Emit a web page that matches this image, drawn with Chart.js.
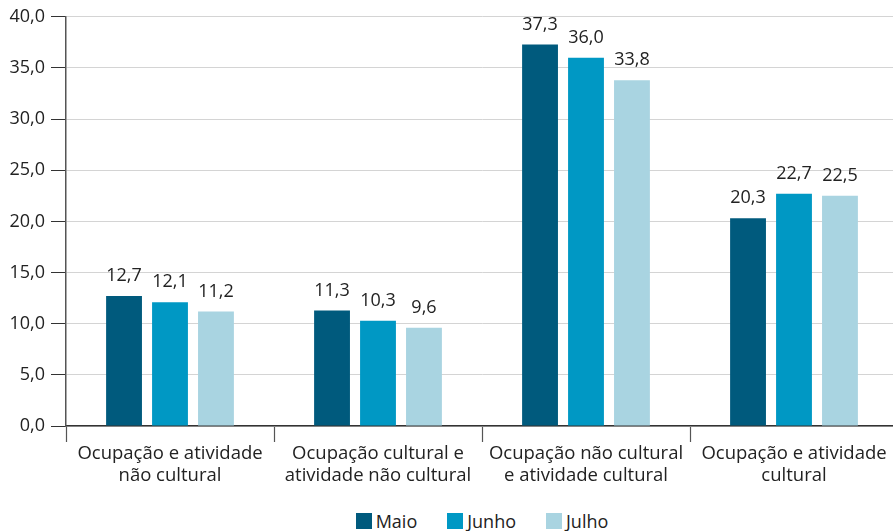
<!DOCTYPE html>
<html>
<head>
<meta charset="utf-8">
<script src="https://cdn.jsdelivr.net/npm/chart.js@4"></script>
<style>
  html, body { margin: 0; padding: 0; background: #fff; overflow: hidden; }
  #wrap { position: relative; width: 893px; height: 531px; overflow: hidden; }
  #legend { position: absolute; left: 66px; top: 509px; width: 832px; display: flex; justify-content: center;
            font-family: "Open Sans", sans-serif; font-size: 18px; color: #222; }
  .item { display: flex; align-items: center; margin: 0 15px; }
  .box { width: 16px; height: 16px; margin-right: 4px; }
</style>
</head>
<body>
<div id="wrap">
  <canvas id="chart" width="898" height="500"></canvas>
  <div id="legend"></div>
</div>
<script>
const categories = [
  ['Ocupação e atividade', 'não cultural'],
  ['Ocupação cultural e', 'atividade não cultural'],
  ['Ocupação não cultural', 'e atividade cultural'],
  ['Ocupação e atividade', 'cultural']
];
const seriesNames = ['Maio', 'Junho', 'Julho'];
const maio = [12.7, 11.3, 37.3, 20.3];
const junho = [12.1, 10.3, 36.0, 22.7];
const julho = [11.2, 9.6, 33.8, 22.5];
const colors = ['#005a7d', '#0098c4', '#a9d4e1'];

const fontFamily = '"Open Sans", sans-serif';
const fmt = v => v.toFixed(1).replace('.', ',');

// rotulos de valor acima das barras
const valueLabels = {
  id: 'valueLabels',
  afterDatasetsDraw(chart) {
    const ctx = chart.ctx;
    ctx.save();
    ctx.font = '18px ' + fontFamily;
    ctx.fillStyle = '#222';
    ctx.textAlign = 'center';
    ctx.textBaseline = 'bottom';
    chart.data.datasets.forEach((ds, i) => {
      chart.getDatasetMeta(i).data.forEach((bar, j) => {
        ctx.fillText(fmt(ds.data[j]), bar.x, bar.y - 11);
      });
    });
    ctx.restore();
  }
};

const allSeries = [maio, junho, julho];

new Chart(document.getElementById('chart'), {
  type: 'bar',
  data: {
    labels: categories,
    datasets: allSeries.map((d, i) => ({
      label: seriesNames[i],
      data: d,
      backgroundColor: colors[i],
      categoryPercentage: 0.663,
      barPercentage: 0.78
    }))
  },
  options: {
    responsive: false,
    animation: false,
    layout: { padding: { top: 8, right: 0, left: 0, bottom: 0 } },
    plugins: {
      legend: { display: false },
      tooltip: { enabled: false }
    },
    scales: {
      x: {
        grid: { offset: true, drawOnChartArea: false, tickLength: 16, color: '#555', tickWidth: 1.2 },
        border: { color: '#333', width: 1.5 },
        ticks: { maxRotation: 0, autoSkip: false, padding: 0, color: '#222',
                 font: { family: fontFamily, size: 18.5, lineHeight: 1.22 } },
        afterFit(scale) { scale.height = 74; }
      },
      y: {
        min: 0, max: 40,
        grid: { color: '#d4d4d4', tickColor: '#333', tickLength: 15 },
        border: { color: '#555', width: 1.5 },
        ticks: { stepSize: 5, padding: 6, color: '#222',
                 font: { family: fontFamily, size: 18 },
                 callback: v => fmt(v) },
        afterFit(scale) { scale.width = 66; }
      }
    }
  },
  plugins: [valueLabels]
});

const legend = document.getElementById('legend');
seriesNames.forEach((name, i) => {
  const item = document.createElement('div');
  item.className = 'item';
  const box = document.createElement('span');
  box.className = 'box';
  box.style.background = colors[i];
  const txt = document.createElement('span');
  txt.textContent = name;
  item.appendChild(box);
  item.appendChild(txt);
  legend.appendChild(item);
});
</script>
</body>
</html>
